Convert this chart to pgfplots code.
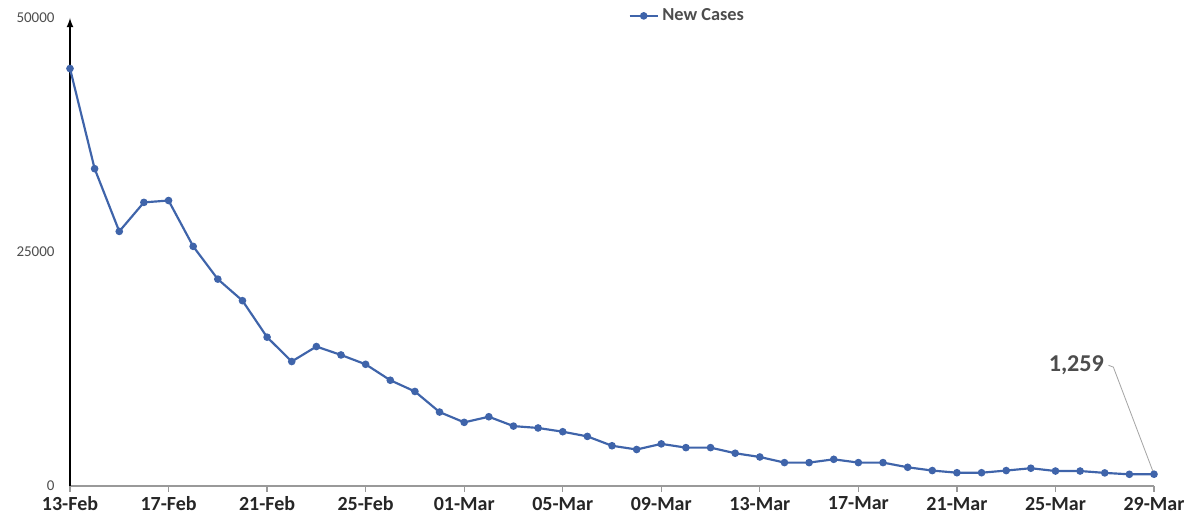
\documentclass[border=0pt]{standalone}
\usepackage{fontspec}
\setmainfont{Carlito}
\usepackage{pgfplots}
\pgfplotsset{compat=1.18}
\definecolor{lineblue}{HTML}{3F64AA}
\definecolor{txtgray}{HTML}{4D4D4D}

\pgfplotstableread{
day cases
0 44600
1 33900
2 27200
3 30300
4 30500
5 25600
6 22100
7 19800
8 15900
9 13300
10 14900
11 14000
12 13000
13 11300
14 10100
15 7900
16 6800
17 7400
18 6400
19 6200
20 5800
21 5300
22 4300
23 3900
24 4500
25 4100
26 4100
27 3500
28 3100
29 2500
30 2500
31 2850
32 2500
33 2500
34 2000
35 1650
36 1420
37 1420
38 1650
39 1900
40 1600
41 1600
42 1400
43 1250
44 1259
}\cases

\begin{document}
\begin{tikzpicture}
\begin{axis}[
  name=a,
  scale only axis,
  width=650.4pt, height=280.8pt,
  xmin=0, xmax=44, ymin=0, ymax=50000,
  axis x line*=bottom,
  axis y line=left,
  x axis line style={draw=gray!80, line width=1pt},
  y axis line style={draw=black, line width=0.9pt, -latex},
  xtick={0,4,...,44},
  xticklabels={13-Feb,17-Feb,21-Feb,25-Feb,01-Mar,05-Mar,09-Mar,13-Mar,17-Mar,21-Mar,25-Mar,29-Mar},
  x tick style={draw=gray!80, line width=0.8pt},
  xtick align=outside,
  major tick length=3.5pt,
  x tick label style={font=\fontsize{12}{14}\selectfont\bfseries, text=black!85, yshift=0.5pt},
  ytick={0,25000,50000},
  y tick style={draw=none},
  y tick label style={font=\fontsize{9}{11}\selectfont, text=txtgray, xshift=-4pt},
  /pgf/number format/assume math mode=true,
  scaled y ticks=false,
  yticklabel={\pgfmathprintnumber[fixed,1000 sep={}]{\tick}},
  clip=false,
  legend style={at={(0.57,1.035)}, anchor=north, draw=none, fill=none,
    font=\fontsize{11}{13}\selectfont\bfseries, text=txtgray},
  legend cell align=left,
]
\addplot[color=lineblue, line width=1.3pt, mark=*, mark size=1.6pt,
  mark options={fill=lineblue}] table[x=day, y=cases] {\cases};
\addlegendentry{New Cases}
\draw[gray!70, line width=0.5pt] (axis cs:42.15,12900) -- (axis cs:42.35,12700) -- (axis cs:44,1259);
\node[anchor=east, font=\fontsize{14.5}{16}\selectfont\bfseries, text=txtgray, inner sep=1pt] at (axis cs:42.05,12900) {1,259};
\end{axis}
\pgfresetboundingbox
\path[use as bounding box] ([shift={(-42pt,-21.6pt)}]a.south west) rectangle ([shift={(18.6pt,10.8pt)}]a.north east);
\end{tikzpicture}
\end{document}
